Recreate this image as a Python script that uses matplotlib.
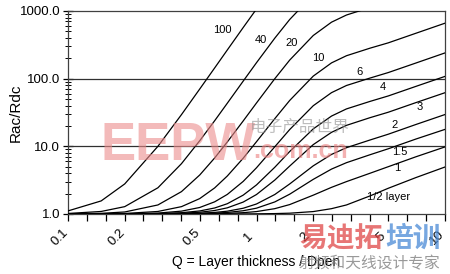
import numpy as np
import matplotlib
matplotlib.use("Agg")
import matplotlib.pyplot as plt
import matplotlib.transforms as mtransforms
from matplotlib.ticker import FixedLocator, FixedFormatter, NullFormatter

plt.rcParams['font.family'] = ['Liberation Sans', 'DejaVu Sans']

q = [0.1, 0.15, 0.2, 0.3, 0.4, 0.5, 0.6, 0.7, 0.85, 1, 1.25, 1.5, 2, 2.5, 3, 4, 5, 7, 10]
nan = np.nan

# Rac/Rdc for each number of layers
fr_half = [1.0, 1.0, 1.0, 1.0, 1.0002, 1.0003, 1.0008, 1.0013, 1.003, 1.0055, 1.014, 1.028,
           1.086, 1.199, 1.36, 1.85, 2.4, 3.45, 4.95]
fr_1 = [1.0, 1.0, 1.0001, 1.0007, 1.0023, 1.0055, 1.0115, 1.021, 1.046, 1.086, 1.199, 1.378,
        1.898, 2.477, 3.01, 4.0, 5.0, 7.0, 9.8]
fr_15 = [1.0, 1.0001, 1.0003, 1.0018, 1.0058, 1.014, 1.029, 1.054, 1.117, 1.219, 1.507, 1.962,
         3.25, 4.61, 5.73, 7.51, 9.2, 12.8, 17.8]
fr_2 = [1.0, 1.0002, 1.0006, 1.0034, 1.011, 1.026, 1.055, 1.10, 1.216, 1.406, 1.94, 2.78,
        5.15, 7.59, 9.54, 12.4, 15.1, 21.0, 29.5]
fr_3 = [1.0001, 1.0005, 1.0015, 1.008, 1.025, 1.061, 1.126, 1.233, 1.50, 1.94, 3.17, 5.11,
        10.6, 16.1, 20.4, 26.5, 31.9, 44.2, 62.0]
fr_4 = [1.0002, 1.0009, 1.0028, 1.014, 1.045, 1.109, 1.227, 1.418, 1.90, 2.69, 4.90, 8.38,
        18.1, 28.0, 35.7, 46.1, 55.5, 76.8, 108.0]
fr_6 = [1.0004, 1.002, 1.0063, 1.032, 1.102, 1.248, 1.513, 1.946, 3.03, 4.82, 9.84, 17.7,
        39.8, 62.1, 79.2, 102.0, 123.0, 170.0, 240.0]
fr_10 = [1.0011, 1.0056, 1.018, 1.09, 1.284, 1.69, 2.43, 3.64, 6.67, 11.7, 25.6, 47.6,
         109.0, 171.0, 218.0, 282.0, 338.0, 468.0, 660.0]
fr_20 = [1.0044, 1.0225, 1.071, 1.36, 2.14, 3.77, 6.73, 11.6, 23.7, 43.7, 99.7, 188.0,
         434.0, 683.0, 871.0, 1124.0, nan, nan, nan]
fr_40 = [1.018, 1.09, 1.284, 2.44, 5.54, 12.1, 23.9, 43.3, 91.9, 172.0, 396.0, 748.0,
         1734.0, nan, nan, nan, nan, nan, nan]
fr_100 = [1.11, 1.56, 2.78, 10.0, 29.4, 70.3, 144.0, 265.0, 569.0, 1069.0, nan, nan,
          nan, nan, nan, nan, nan, nan, nan]

curves = [fr_half, fr_1, fr_15, fr_2, fr_3, fr_4, fr_6, fr_10, fr_20, fr_40, fr_100]

# curve labels and where they sit (data coordinates)
names = ['1/2 layer', '1', '1.5', '2', '3', '4', '6', '10', '20', '40', '100']
name_x = [4.99, 5.56, 5.77, 5.43, 7.37, 4.69, 3.50, 2.12, 1.54, 1.06, 0.656]
name_y = [1.78, 4.78, 8.24, 20.6, 38.0, 75.0, 125.0, 201.0, 336.0, 372.0, 522.0]

xtick_labels = ['0.1', '0.2', '0.5', '1', '2', '5', '10']

fig = plt.figure(figsize=(4.5, 2.74), dpi=100)
ax = fig.add_axes([0.151, 0.219, 0.838, 0.741])

for fr in curves:
    ax.plot(q, fr, color='black', lw=0.9, zorder=3)

for name, tx, ty in zip(names, name_x, name_y):
    ax.text(tx, ty, name, fontsize=8, ha='center', va='center', zorder=4)

ax.set_xscale('log')
ax.set_yscale('log')
ax.set_xlim(0.1, 10)
ax.set_ylim(1, 1000)

# gridlines at the inner decades only
for g in [10, 100]:
    ax.axhline(g, color='#303030', lw=0.9, zorder=2)

# x ticks every tenth of a decade, labels at 1-2-5
xt = 10 ** (np.arange(-10, 11) / 10.0)
lab = [''] * len(xt)
for i, s in zip([0, 3, 7, 10, 13, 17, 20], xtick_labels):
    lab[i] = s
ax.xaxis.set_major_locator(FixedLocator(xt))
ax.xaxis.set_major_formatter(FixedFormatter(lab))
ax.xaxis.set_minor_locator(FixedLocator([]))
ax.tick_params(axis='x', which='major', direction='out', length=5, width=0.9,
               labelsize=9.5, pad=12, top=False)
shift = mtransforms.ScaledTranslation(-8 / 100, 0, fig.dpi_scale_trans)
for t in ax.get_xticklabels():
    t.set_rotation(45)
    t.set_ha('center')
    t.set_va('center')
    t.set_rotation_mode('anchor')
    t.set_transform(t.get_transform() + shift)

ax.yaxis.set_major_locator(FixedLocator([1, 10, 100, 1000]))
ax.yaxis.set_major_formatter(FixedFormatter(['1.0', '10.0', '100.0', '1000.0']))
ax.yaxis.set_minor_locator(FixedLocator([m * d for d in [1, 10, 100] for m in range(2, 10)]))
ax.yaxis.set_minor_formatter(NullFormatter())
ax.tick_params(axis='y', which='major', direction='inout', length=7, width=0.9,
               labelsize=9.5, pad=2, right=False)
ax.tick_params(axis='y', which='minor', direction='inout', length=4, width=0.7, right=False)

for sp in ax.spines.values():
    sp.set_color('#404040')
    sp.set_linewidth(0.9)

ax.set_ylabel('Rac/Rdc', fontsize=11)
ax.yaxis.set_label_coords(-0.12, 0.5)
ax.set_xlabel('Q = Layer thickness / Dpen', fontsize=10)
ax.xaxis.set_label_coords(0.5, -0.2)

# site watermarks
cjk = ['Noto Sans CJK SC', 'DejaVu Sans']
fig.text(100 / 450, 1 - 160 / 274, 'EEPW', fontsize=38, fontweight='bold',
         color='#ec8c8c', alpha=0.6, ha='left', va='baseline', zorder=10)
fig.text(250 / 450, 1 - 127 / 274, '电子产品世界', fontsize=12, family=cjk,
         color='#909090', alpha=0.6, ha='left', va='center', zorder=10)
fig.text(253 / 450, 1 - 158 / 274, '.com.cn', fontsize=18, fontweight='bold',
         color='#ec8080', alpha=0.6, ha='left', va='baseline', zorder=10)
fig.text(299 / 450, 1 - 239 / 274, '易迪拓', fontsize=20, fontweight='bold', family=cjk,
         color='#e04848', alpha=0.75, ha='left', va='center', zorder=10)
fig.text(385 / 450, 1 - 239 / 274, '培训', fontsize=20, fontweight='bold', family=cjk,
         color='#4a8ad6', alpha=0.75, ha='left', va='center', zorder=10)
fig.text(299 / 450, 1 - 264 / 274, '射频和天线设计专家', fontsize=11.3, family=cjk,
         color='#808080', alpha=0.8, ha='left', va='center', zorder=10)

fig.savefig('out.png', dpi=100)
